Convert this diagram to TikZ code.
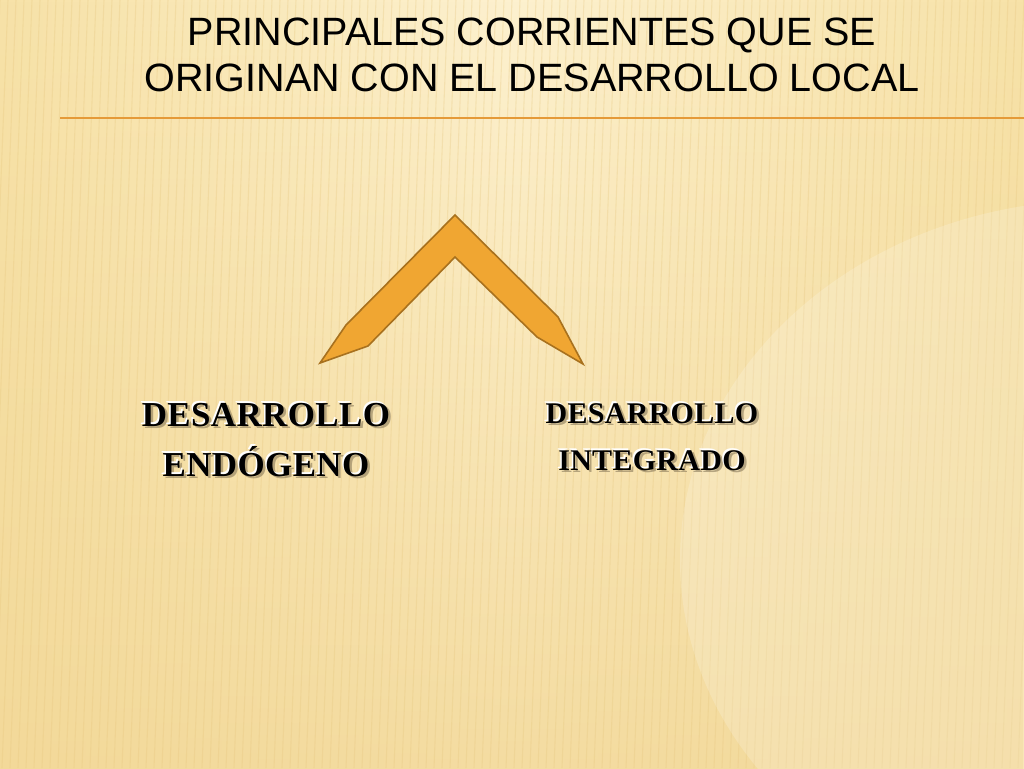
\documentclass[tikz,border=0pt]{standalone}
\usepackage{fontspec}
\usetikzlibrary{fadings}
\setmainfont{Liberation Sans}
\newfontfamily\decofont[LetterSpace=1]{Liberation Serif}
\definecolor{bgside}{HTML}{F7E2A8}
\definecolor{bgmid}{HTML}{FDF1CF}
\definecolor{bgbot}{HTML}{F2D796}
\definecolor{stripe}{HTML}{E6C67E}
\definecolor{chevfill}{HTML}{F0A632}
\definecolor{chevdraw}{HTML}{A8711E}
\definecolor{rule}{HTML}{E59A38}
\definecolor{shadowcol}{HTML}{8A7A5A}
\tikzset{
  titletext/.style={font=\fontsize{39.5}{46}\selectfont, text=black, align=center, inner sep=0pt},
  decobig/.style={font=\decofont\bfseries\fontsize{35}{50}\selectfont, align=center, inner sep=0pt},
  decosmall/.style={font=\decofont\bfseries\fontsize{30}{47}\selectfont, align=center, inner sep=0pt},
  chevron/.style={fill=chevfill, draw=chevdraw, line width=1.6pt, line join=miter}
}
\begin{document}
\begin{tikzpicture}[x=1pt,y=-1pt]
\useasboundingbox (0,0) rectangle (1024,768);
\shade[left color=bgside, right color=bgside, middle color=bgmid] (0,0) rectangle (1024,768);
\fill[bgbot, path fading=north, opacity=0.8] (0,0) rectangle (1024,768);
\foreach \i in {0,8,...,1060} {
  \draw[stripe, line width=1.1pt, opacity=0.3] (\i,0) -- (\i-30,768);
}
\fill[white, opacity=0.18] (1100,560) ellipse (420 and 360);
% title
\node[titletext] (title) at (532,55) {PRINCIPALES CORRIENTES QUE SE\\ORIGINAN CON EL DESARROLLO LOCAL};
% rule
\coordinate (ruleL) at (60,118);
\coordinate (ruleR) at (1024,118);
\draw[rule, line width=2pt] (ruleL) -- (ruleR);
% chevron
\filldraw[chevron] (455,215) -- (558,317) -- (583,364) -- (537,337) -- (455,257)
  -- (368,346) -- (320,363) -- (346,325) -- cycle;
% labels
\node[decobig, text=shadowcol, opacity=0.6] (endoshadow) at (268.5,442.5) {DESARROLLO\\ENDÓGENO};
\node[decobig, text=white] (endohalo) at (264.5,438) {DESARROLLO\\ENDÓGENO};
\node[decobig, text=black] (endo) at (266,440) {DESARROLLO\\ENDÓGENO};
\node[decosmall, text=shadowcol, opacity=0.6] (integshadow) at (654.5,439.5) {DESARROLLO\\INTEGRADO};
\node[decosmall, text=white] (integhalo) at (650.5,435) {DESARROLLO\\INTEGRADO};
\node[decosmall, text=black] (integ) at (652,437) {DESARROLLO\\INTEGRADO};
\end{tikzpicture}
\end{document}
